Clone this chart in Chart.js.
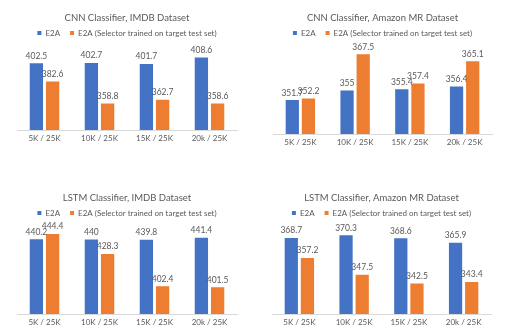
<!DOCTYPE html>
<html>
<head>
<meta charset="utf-8">
<script src="https://cdn.jsdelivr.net/npm/chart.js@4.4.1/dist/chart.umd.min.js"></script>
<style>
  body { margin: 0; background: #fff; }
  .box { position: absolute; height: 168px; }
</style>
</head>
<body>
<div class="box" style="left:0;top:0;width:260px"><canvas id="c1"></canvas></div>
<div class="box" style="left:260px;top:0;width:261px"><canvas id="c2"></canvas></div>
<div class="box" style="left:0;top:168px;width:260px"><canvas id="c3"></canvas></div>
<div class="box" style="left:260px;top:168px;width:261px"><canvas id="c4"></canvas></div>
<script>
const categories = ['5K / 25K', '10K / 25K', '15K / 25K', '20k / 25K'];
const seriesNames = ['E2A', 'E2A (Selector trained on target test set)'];

const cnnImdbE2A = [402.5, 402.7, 401.7, 408.6];
const cnnImdbSel = [382.6, 358.8, 362.7, 358.6];
const cnnAmazonE2A = [351.7, 355, 355.4, 356.4];
const cnnAmazonSel = [352.2, 367.5, 357.4, 365.1];
const lstmImdbE2A = [440.2, 440, 439.8, 441.4];
const lstmImdbSel = [444.4, 428.3, 402.4, 401.5];
const lstmAmazonE2A = [368.7, 370.3, 368.6, 365.9];
const lstmAmazonSel = [357.2, 347.5, 342.5, 343.4];

const textColor = '#595959';
const fontFamily = 'Lato, "Open Sans", sans-serif';

// value labels above each bar
const barLabels = {
    id: 'barLabels',
    afterDatasetsDraw(chart) {
        const ctx = chart.ctx;
        ctx.save();
        ctx.font = '8.5px ' + fontFamily;
        ctx.fillStyle = textColor;
        ctx.textAlign = 'center';
        ctx.textBaseline = 'bottom';
        chart.data.datasets.forEach((ds, i) => {
            chart.getDatasetMeta(i).data.forEach((bar, j) => {
                ctx.fillText(String(ds.data[j]), bar.x, bar.y - 3);
            });
        });
        ctx.restore();
    }
};

function makeChart(id, title, e2a, sel, yMin, yMax, pad) {
    const ctx = document.getElementById(id).getContext('2d');
    return new Chart(ctx, {
        type: 'bar',
        data: {
            labels: categories,
            datasets: [{
                label: seriesNames[0],
                data: e2a,
                backgroundColor: '#4472C4',
                categoryPercentage: 0.59,
                barPercentage: 0.82
            }, {
                label: seriesNames[1],
                data: sel,
                backgroundColor: '#ED7D31',
                categoryPercentage: 0.59,
                barPercentage: 0.82
            }]
        },
        options: {
            responsive: true,
            maintainAspectRatio: false,
            animation: false,
            layout: { padding: pad },
            plugins: {
                title: {
                    display: true,
                    text: title,
                    color: textColor,
                    font: { family: fontFamily, size: 9.5, weight: 'normal', lineHeight: 1 },
                    padding: { top: 13, bottom: -3.5 }
                },
                legend: {
                    labels: {
                        boxWidth: 4,
                        boxHeight: 4,
                        padding: 10,
                        color: textColor,
                        font: { family: fontFamily, size: 8 }
                    }
                },
                tooltip: { enabled: false }
            },
            scales: {
                x: {
                    grid: { display: false, drawTicks: false },
                    border: { display: true, color: '#d9d9d9' },
                    ticks: { color: textColor, padding: 4, font: { family: fontFamily, size: 8 } },
                    afterFit(scale) { scale.height = 20; }
                },
                y: { display: false, min: yMin, max: yMax }
            }
        },
        plugins: [barLabels]
    });
}

makeChart('c1', 'CNN Classifier, IMDB Dataset', cnnImdbE2A, cnnImdbSel, 330, 420,
    { left: 17, right: 23, top: 0, bottom: 18 });
makeChart('c2', 'CNN Classifier, Amazon MR Dataset', cnnAmazonE2A, cnnAmazonSel, 340, 370,
    { left: 13, right: 29, top: 0, bottom: 14 });
makeChart('c3', 'LSTM Classifier, IMDB Dataset', lstmImdbE2A, lstmImdbSel, 380, 450,
    { left: 17, right: 23, top: 12, bottom: 2 });
makeChart('c4', 'LSTM Classifier, Amazon MR Dataset', lstmAmazonE2A, lstmAmazonSel, 325, 375,
    { left: 12, right: 30, top: 12, bottom: 2 });
</script>
</body>
</html>
